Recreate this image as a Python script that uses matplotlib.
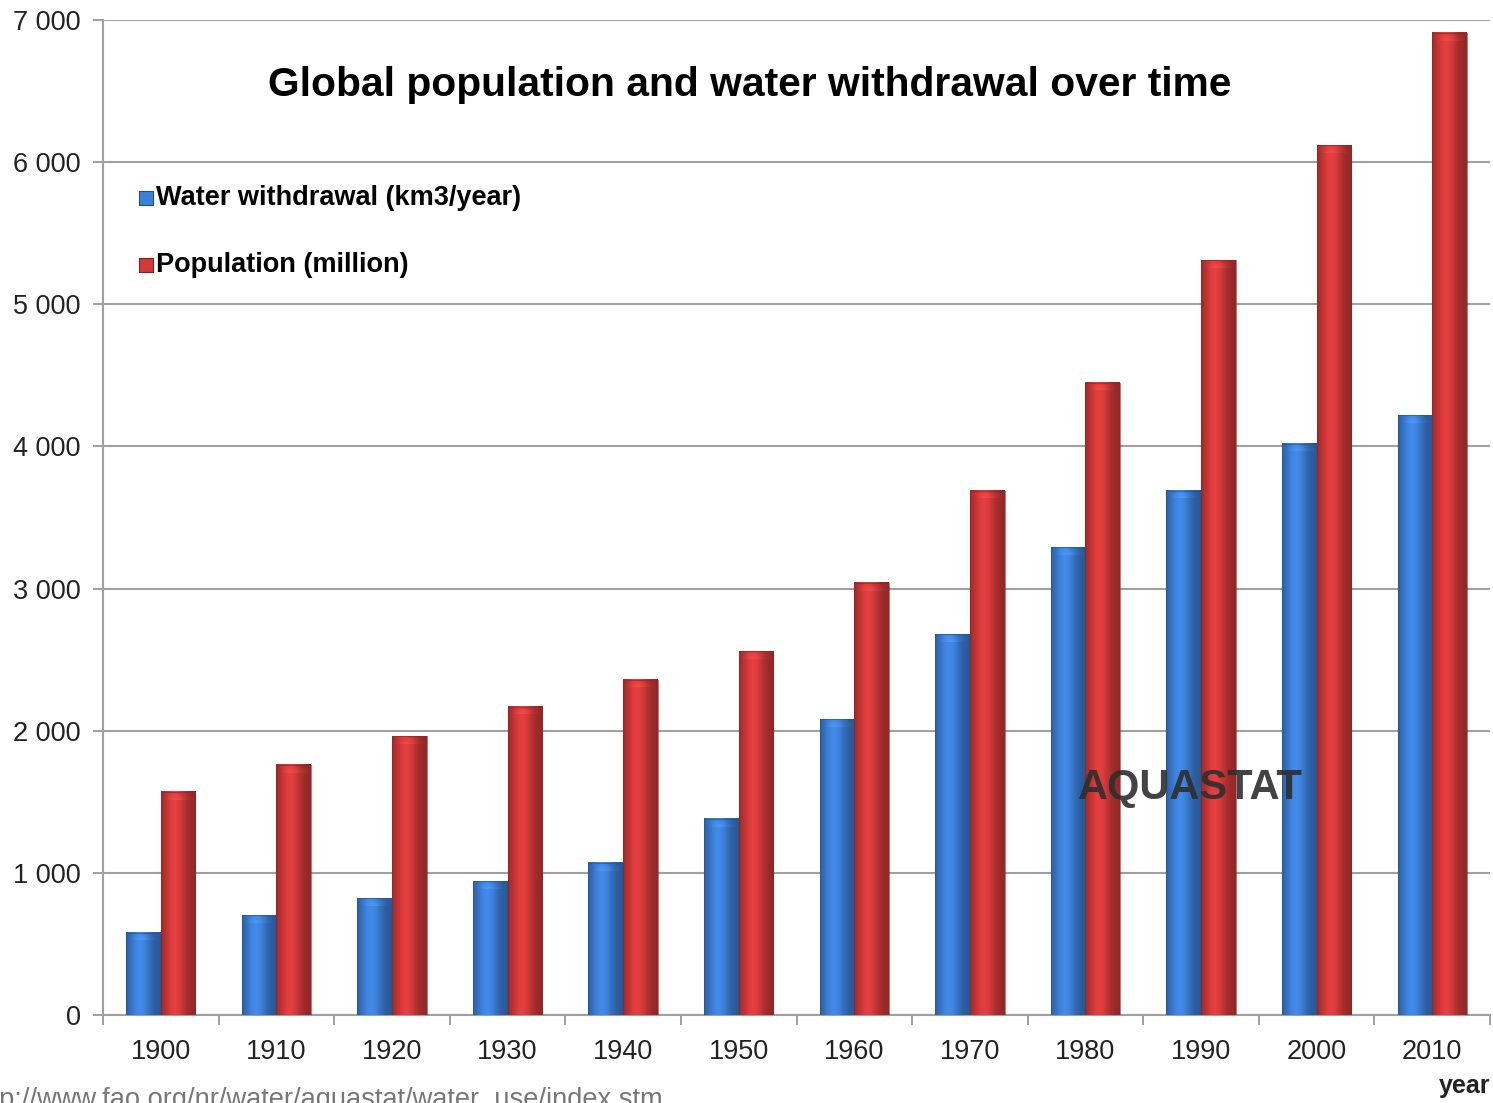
import numpy as np
import matplotlib
matplotlib.use("Agg")
import matplotlib.pyplot as plt
from matplotlib.colors import to_rgb

plt.rcParams['font.family'] = ['Liberation Sans', 'DejaVu Sans']

YEARS = ['1900', '1910', '1920', '1930', '1940', '1950',
         '1960', '1970', '1980', '1990', '2000', '2010']
WITHDRAWAL = [580, 700, 820, 940, 1070, 1380, 2080, 2680, 3290, 3690, 4020, 4220]
POPULATION = [1570, 1760, 1960, 2170, 2360, 2560, 3040, 3690, 4450, 5310, 6120, 6910]
YTICKS = [0, 1000, 2000, 3000, 4000, 5000, 6000, 7000]
YTICK_LABELS = ['0', '1 000', '2 000', '3 000', '4 000', '5 000', '6 000', '7 000']

BLUE = '#3d80d8'
RED = '#d43a3a'
BAR_W = 0.3
GRID_COLOR = '#a0a0a0'


def shaded_bar(ax, x0, width, height, color, n=64):
    # cylinder-like shading: dark edges, highlight left of centre
    t = np.linspace(0, 1, n)
    shade = 0.68 + 0.40 * np.exp(-((t - 0.40) / 0.32) ** 2)
    base = np.array(to_rgb(color))
    row = np.clip(base[None, :] * shade[:, None], 0, 1)
    img = np.repeat(row[None, :, :], 4, axis=0)
    ax.imshow(img, extent=(x0, x0 + width, 0, height), aspect='auto',
              interpolation='bilinear', zorder=3)
    # soft rounded cap at the top of the bar
    cap_h = 55
    cap = np.ones((12, n, 4))
    cap[:, :, :3] = np.clip(row * 1.12 + 0.05, 0, 1)
    alpha = np.linspace(0.0, 0.55, 12)[:, None] * np.sin(np.pi * t)[None, :] ** 0.6
    cap[:, :, 3] = alpha
    ax.imshow(cap, extent=(x0 + width * 0.08, x0 + width * 0.92, height - cap_h, height - 6),
              aspect='auto', interpolation='bilinear', zorder=4)
    edge = np.clip(base * 0.65, 0, 1)
    ax.plot([x0, x0, x0 + width, x0 + width], [0, height, height, 0],
            color=edge, lw=0.8, alpha=0.6, zorder=5)


fig = plt.figure(figsize=(14.93, 11.03), dpi=100)
ax = fig.add_axes([0.069, 0.0798, 0.929, 0.902])

x = np.arange(len(YEARS))
for i in range(len(YEARS)):
    shaded_bar(ax, x[i] - BAR_W, BAR_W, WITHDRAWAL[i], BLUE)
    shaded_bar(ax, x[i], BAR_W, POPULATION[i], RED)

ax.set_xlim(-0.5, len(YEARS) - 0.5)
ax.set_ylim(0, 7000)

ax.set_yticks(YTICKS)
ax.set_yticklabels(YTICK_LABELS, fontsize=19.5, color='#222222')
ax.yaxis.grid(True, color=GRID_COLOR, lw=1.5, zorder=0)
ax.set_axisbelow(True)

ax.set_xticks(x)
ax.set_xticklabels(YEARS, fontsize=19.5, color='#222222')
ax.set_xticks(np.arange(-0.5, len(YEARS)), minor=True)
ax.tick_params(axis='x', which='major', length=0, pad=17)
ax.tick_params(axis='x', which='minor', length=7, color=GRID_COLOR, width=1.4)
ax.tick_params(axis='y', length=7, color=GRID_COLOR, width=1.4, pad=9)

for side in ['top', 'right']:
    ax.spines[side].set_visible(False)
for side in ['left', 'bottom']:
    ax.spines[side].set_color(GRID_COLOR)
    ax.spines[side].set_linewidth(1.5)

ax.text(0.466, 0.935, 'Global population and water withdrawal over time',
        transform=ax.transAxes, ha='center', va='center',
        fontsize=29.3, fontweight='bold', color='black', zorder=10)

# legend entries with small shaded squares
for label, color, yv in [('Water withdrawal (km3/year)', BLUE, 5745),
                         ('Population (million)', RED, 5275)]:
    ax.scatter([-0.127], [yv], marker='s', s=110, color=color,
               edgecolor=np.clip(np.array(to_rgb(color)) * 0.6, 0, 1), lw=0.8, zorder=10)
    ax.text(-0.04, yv, label, ha='left', va='center', fontsize=19.5,
            fontweight='bold', color='black', zorder=10)

ax.text(8.91, 1600, 'AQUASTAT', ha='center', va='center', fontsize=30,
        fontweight='bold', color='#2e2e2e', alpha=0.9, zorder=10)

fig.text(0.998, 0.015, 'year', ha='right', va='center', fontsize=18,
         fontweight='bold', color='#222222')
fig.text(-0.021, 0.003, 'http://www.fao.org/nr/water/aquastat/water_use/index.stm',
         ha='left', va='center', fontsize=19.6, color='#777777')

fig.savefig('out.png', dpi=100)
